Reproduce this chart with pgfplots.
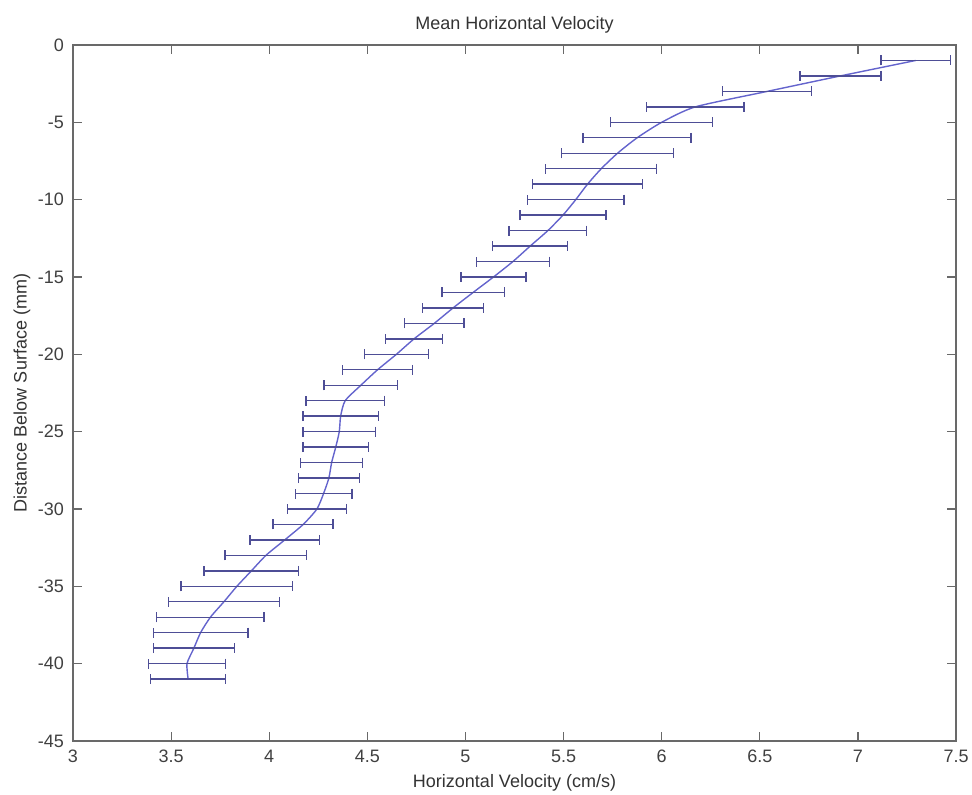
\documentclass[border=0pt]{standalone}
\usepackage{pgfplots}
\pgfplotsset{compat=1.18}
\usepackage{pgfplotstable}
\usepackage{fontspec}
\setmainfont{Liberation Sans}

\definecolor{barcol}{RGB}{78,78,150}
\definecolor{linecol}{RGB}{100,100,205}
\definecolor{framecol}{RGB}{105,105,105}

% depth (mm), mean velocity (cm/s), half width of the bar
\pgfplotstableread{
d    v      e
-1   7.295  0.178
-2   6.911  0.206
-3   6.538  0.227
-4   6.172  0.248
-5   6.000  0.260
-6   5.875  0.275
-7   5.775  0.285
-8   5.692  0.283
-9   5.622  0.281
-10  5.562  0.246
-11  5.497  0.219
-12  5.420  0.198
-13  5.330  0.191
-14  5.242  0.185
-15  5.143  0.165
-16  5.039  0.159
-17  4.937  0.155
-18  4.841  0.152
-19  4.738  0.144
-20  4.648  0.163
-21  4.552  0.179
-22  4.467  0.187
-23  4.387  0.199
-24  4.364  0.192
-25  4.357  0.184
-26  4.339  0.166
-27  4.318  0.158
-28  4.304  0.156
-29  4.277  0.144
-30  4.243  0.151
-31  4.173  0.153
-32  4.079  0.177
-33  3.983  0.208
-34  3.909  0.241
-35  3.835  0.285
-36  3.769  0.283
-37  3.700  0.274
-38  3.650  0.241
-39  3.616  0.207
-40  3.581  0.197
-41  3.587  0.191
}\velocity

\begin{document}
\begin{tikzpicture}
\begin{axis}[
    name=ax,
    scale only axis,
    width=441.5pt, height=348pt,
    xmin=3, xmax=7.5,
    ymin=-45, ymax=0,
    xtick={3,3.5,...,7.5},
    ytick={-45,-40,...,0},
    tick align=inside,
    major tick length=4.5pt,
    minor tick num=0,
    axis line style={framecol, line width=0.8pt},
    tick style={framecol, line width=0.6pt},
    ticklabel style={font=\fontsize{9}{10}\selectfont, text=black!75},
    /pgf/number format/assume math mode=true,
    /pgf/number format/1000 sep={},
    xticklabel style={yshift=-1pt},
    yticklabel style={xshift=-1pt},
    xlabel={Horizontal Velocity (cm/s)},
    ylabel={Distance Below Surface (mm)},
    label style={font=\fontsize{9}{10}\selectfont, text=black!80},
    xlabel style={at={(axis description cs:0.5,-0.06)}, anchor=center},
    ylabel style={at={(axis description cs:-0.0578,0.5)}, anchor=center},
    clip=false
]
\addplot[linecol, line width=0.7pt, mark=none, smooth, tension=0.4,
    error bars/.cd, x dir=both, x explicit,
    error mark=|,
    error bar style={barcol, line width=0.7pt},
    error mark options={barcol, line width=0.7pt, mark size=2.5pt}]
    table[x=v, y=d, x error=e] {\velocity};
\end{axis}
% title, set apart from the axis so that its place is exact
\node[anchor=base, font=\fontsize{9}{10}\selectfont, text=black!80]
    at ([yshift=7.5pt]ax.north) {Mean Horizontal Velocity};
\pgfresetboundingbox
\useasboundingbox (ax.south west) ++(-36.5pt,-27pt) rectangle ([xshift=8pt,yshift=22.5pt]ax.north east);
\end{tikzpicture}
\end{document}
